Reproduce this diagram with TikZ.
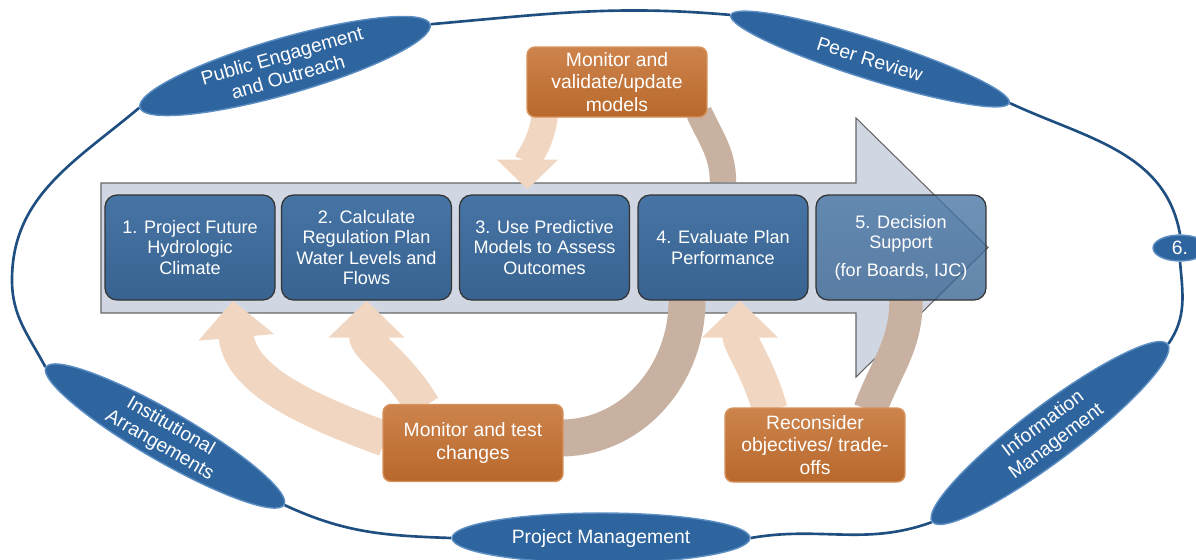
\documentclass[tikz,border=0pt]{standalone}
\usepackage{fontspec}
\setmainfont{Liberation Sans}
\usepackage{tikz}
\usetikzlibrary{arrows.meta,calc,shapes.geometric}
\usepackage{xcolor}
\definecolor{stepblue}{RGB}{56,99,145}
\definecolor{steptop}{RGB}{70,116,164}
\definecolor{ringblue}{RGB}{31,79,128}
\definecolor{tagblue}{RGB}{47,101,158}
\definecolor{tagedge}{RGB}{92,142,196}
\definecolor{rust}{RGB}{184,104,44}
\definecolor{rusttop}{RGB}{205,132,76}
\definecolor{rustedge}{RGB}{214,146,92}
\definecolor{bandpeach}{RGB}{241,214,193}
\definecolor{bandtan}{RGB}{201,177,161}
\definecolor{arrowfill}{RGB}{208,215,227}
\pgfdeclarelayer{back}
\pgfsetlayers{back,main}

\begin{document}
\begin{tikzpicture}[x=0.02cm, y=0.02cm]
\useasboundingbox (0,0) rectangle (1196,-559);
\clip (0,0) rectangle (1196,-559);
\tikzstyle{stepbox} = [draw=black!80, line width=0.7pt, rounded corners=0.24cm, top color=steptop, bottom color=stepblue, text=white, minimum width=3.4cm, minimum height=2.1cm, inner sep=0pt, align=center, font=\fontsize{10.3}{11.6}\selectfont]
\tikzstyle{task} = [draw=rustedge, line width=0.8pt, rounded corners=0.16cm, top color=rusttop, bottom color=rust, text=white, minimum width=3.6cm, inner sep=0pt, align=center, font=\fontsize{11}{13}\selectfont]
\tikzstyle{tag} = [ellipse, draw=tagedge, line width=0.8pt, fill=tagblue, text=white, inner xsep=0pt, inner ysep=-5pt, align=center, font=\fontsize{11}{12.5}\selectfont]
\tikzstyle{lift} = [bandpeach, line width=20pt, -{Triangle[width=42pt,length=21pt]}]
\tikzstyle{ret} = [bandtan, line width=20pt]
\node[stepbox] (b1) at (190,-247.5) {1. Project Future\\Hydrologic\\Climate};
\node[stepbox] (b2) at (366.5,-247.5) {2. Calculate\\Regulation Plan\\Water Levels and\\Flows};
\node[stepbox] (b3) at (544.5,-247.5) {3. Use Predictive\\Models to Assess\\Outcomes};
\node[stepbox] (b4) at (723,-247.5) {4. Evaluate Plan\\Performance};
\node[stepbox, fill opacity=0.78, text opacity=1] (b5) at (901,-247.5) {5. Decision\\Support\\[4pt](for Boards, IJC)};
\node[task, minimum height=1.4cm] (valid) at (617,-82) {Monitor and\\validate/update\\models};
\node[task, minimum height=1.54cm] (test) at (473,-443) {Monitor and test\\changes};
\node[task, minimum height=1.48cm] (recon) at (815,-445) {Reconsider\\objectives/ trade-\\offs};
\node[tag, rotate=16, minimum width=6.04cm, minimum height=1.12cm] (pub) at (285,-66) {Public Engagement\\and Outreach};
\node[tag, rotate=-17.5, minimum width=5.84cm, minimum height=0.8cm] (peer) at (870,-59) {Peer Review};
\node[tag, minimum width=1.08cm, minimum height=0.52cm] (six) at (1180,-248) {6.};
\node[tag, rotate=37, minimum width=5.9cm, minimum height=1.1cm] (info) at (1050,-433) {Information\\Management};
\node[tag, minimum width=5.96cm, minimum height=1.0cm] (pm) at (601,-538) {Project Management};
\node[tag, rotate=-30, minimum width=5.5cm, minimum height=1.0cm] (inst) at (165,-436) {Institutional\\Arrangements};
\coordinate (lft) at (12,-280);
\begin{pgfonlayer}{back}
\draw[ret, line width=15pt] ($(valid.south)+(82,5)$) to[out=-65,in=90] ($(b4.north)+(0,12)$);
\draw[draw=black!60, line width=0.6pt, fill=arrowfill] (101,-183) -- (856,-183) -- (856,-118) -- (988,-247.5) -- (856,-377) -- (856,-313) -- (101,-313) -- cycle;
\draw[lift, line width=15pt, -{Triangle[width=34pt,length=17pt]}] ($(valid.south)+(-72,5)$) to[out=-95,in=90] ($(b3.north)+(-17,5)$);
\draw[lift] ($(test.west)+(3,4)$) to[out=160,in=-85] ($(b1.south)+(43,0)$);
\draw[lift] ($(test.north)+(-50,-3)$) to[out=120,in=-90] (b2.south);
\draw[lift] ($(recon.north)+(-45,-3)$) to[out=105,in=-90] ($(b4.south)+(17,0)$);
\draw[ret, line width=21pt] ($(b4.south)+(-36,0)$) to[out=-90,in=0] ($(test.east)+(-3,5)$);
\draw[ret, line width=19pt] ($(b5.south)+(5,0)$) to[out=-90,in=70] ($(recon.north)+(55,-3)$);
\draw[ringblue, line width=1.5pt] (pub.east) to[out=5,in=175] (peer.west)
	(peer.east) to[out=-25,in=100] (six.north)
	(six.south) to[out=-85,in=55] (info.east)
	(info.west) to[out=200,in=10] (pm.east)
	(pm.west) to[out=178,in=-25] (inst.east)
	(inst.west) to[out=118,in=-90] (lft) to[out=90,in=220] (pub.west);
\end{pgfonlayer}
\end{tikzpicture}
\end{document}
